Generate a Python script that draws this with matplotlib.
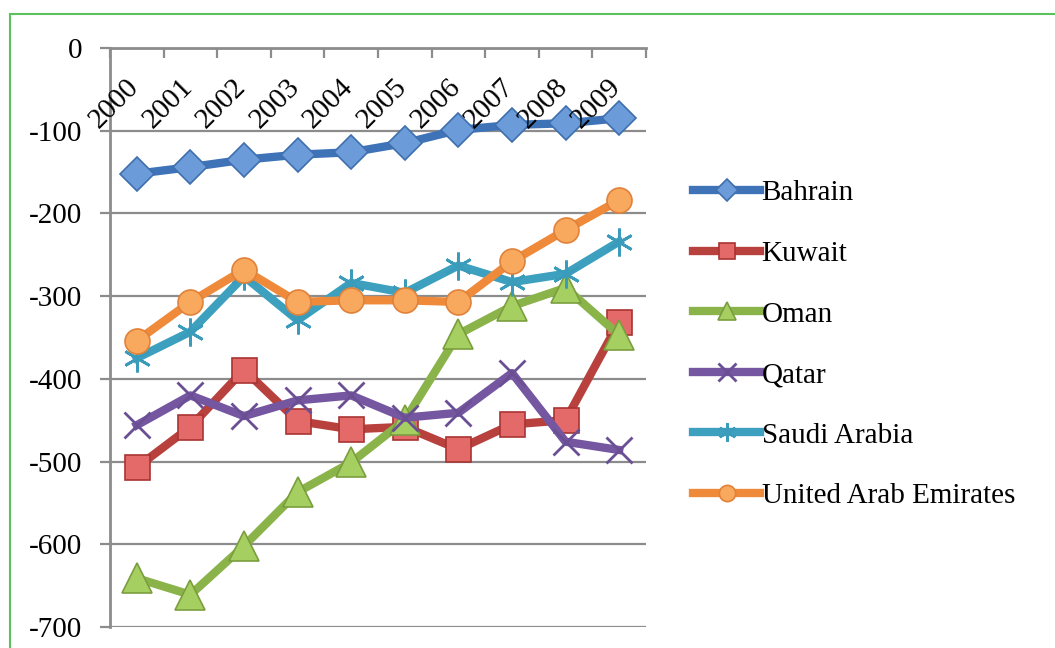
import matplotlib.pyplot as plt
from matplotlib.patches import Rectangle

years = ["2000", "2001", "2002", "2003", "2004", "2005", "2006", "2007", "2008", "2009"]

bahrain = [-152, -144, -135, -129, -126, -115, -99, -93, -91, -85]
kuwait = [-507, -458, -389, -451, -461, -458, -485, -455, -450, -331]
oman = [-641, -661, -602, -537, -501, -450, -346, -312, -290, -347]
qatar = [-456, -420, -445, -426, -420, -447, -441, -393, -476, -486]
saudi = [-375, -343, -276, -329, -284, -296, -263, -283, -273, -234]
uae = [-354, -307, -268, -307, -305, -305, -307, -258, -220, -184]

plt.rcParams['font.family'] = ['Liberation Serif', 'DejaVu Serif']
plt.rcParams['axes.unicode_minus'] = False

fig = plt.figure(figsize=(10.55, 6.48), dpi=100)
ax = fig.add_axes([110 / 1055, 1 - 627 / 648, (646 - 110) / 1055, (627 - 48) / 648])

x = list(range(len(years)))
lw = 6
fs = 21

ax.plot(x, bahrain, color='#3F73B8', lw=lw, marker='D', ms=17,
        mfc='#6C9BDA', mec='#3F6FAE', mew=1.2, label='Bahrain', zorder=3)
ax.plot(x, kuwait, color='#B8403D', lw=lw, marker='s', ms=18,
        mfc='#E46A6A', mec='#A83532', mew=1.2, label='Kuwait', zorder=3)
ax.plot(x, oman, color='#8AB34A', lw=lw, marker='^', ms=21,
        mfc='#A6CF62', mec='#7A9E3E', mew=1.2, label='Oman', zorder=3)
ax.plot(x, qatar, color='#7556A0', lw=lw, marker='x', ms=19,
        mec='#6A4F94', mew=2, label='Qatar', zorder=3)
ax.plot(x, saudi, color='#3CA0BE', lw=lw, marker=(6, 2, 0), ms=20,
        mec='#3A9CBA', mew=2, label='Saudi Arabia', zorder=3)
ax.plot(x, uae, color='#EE8A3A', lw=lw, marker='o', ms=18,
        mfc='#F9A95E', mec='#E0823A', mew=1.2, label='United Arab Emirates', zorder=3)

ax.set_xlim(-0.5, len(years) - 0.5)
ax.set_ylim(-700, 0)
ax.set_yticks(range(-700, 1, 100))
ax.yaxis.grid(True, color='#8C8C8C', lw=1.6)
ax.set_axisbelow(True)

# category axis sits along y=0 at the top, ticks between categories
ax.xaxis.set_ticks_position('top')
ax.set_xticks([i - 0.5 for i in range(len(years) + 1)])
ax.set_xticklabels([])
ax.tick_params(axis='x', direction='in', length=7, width=1.6, color='#8C8C8C')
ax.tick_params(axis='y', direction='out', length=7, width=1.6, color='#8C8C8C',
               labelsize=fs, pad=13)
for side in ['bottom', 'right']:
    ax.spines[side].set_visible(False)
for side in ['top', 'left']:
    ax.spines[side].set_color('#8C8C8C')
    ax.spines[side].set_linewidth(2)

for i, yr in enumerate(years):
    ax.text(i - 0.42, -67, yr, rotation=45, rotation_mode='anchor',
            ha='center', va='center', fontsize=fs, zorder=4)

ax.legend(loc='upper left', bbox_to_anchor=(693 / 1055, 1 - 180 / 648),
          bbox_transform=fig.transFigure, frameon=False, fontsize=fs,
          handlelength=2.3, handletextpad=0.05, labelspacing=1.17,
          markerscale=0.65, borderaxespad=0, borderpad=0)

fig.add_artist(Rectangle((10 / 1055, -0.1), 1.2, 1.1 - 14 / 648,
                         transform=fig.transFigure, fill=False,
                         edgecolor='#5CC05C', lw=1.5))

fig.savefig('out.png', dpi=100)
